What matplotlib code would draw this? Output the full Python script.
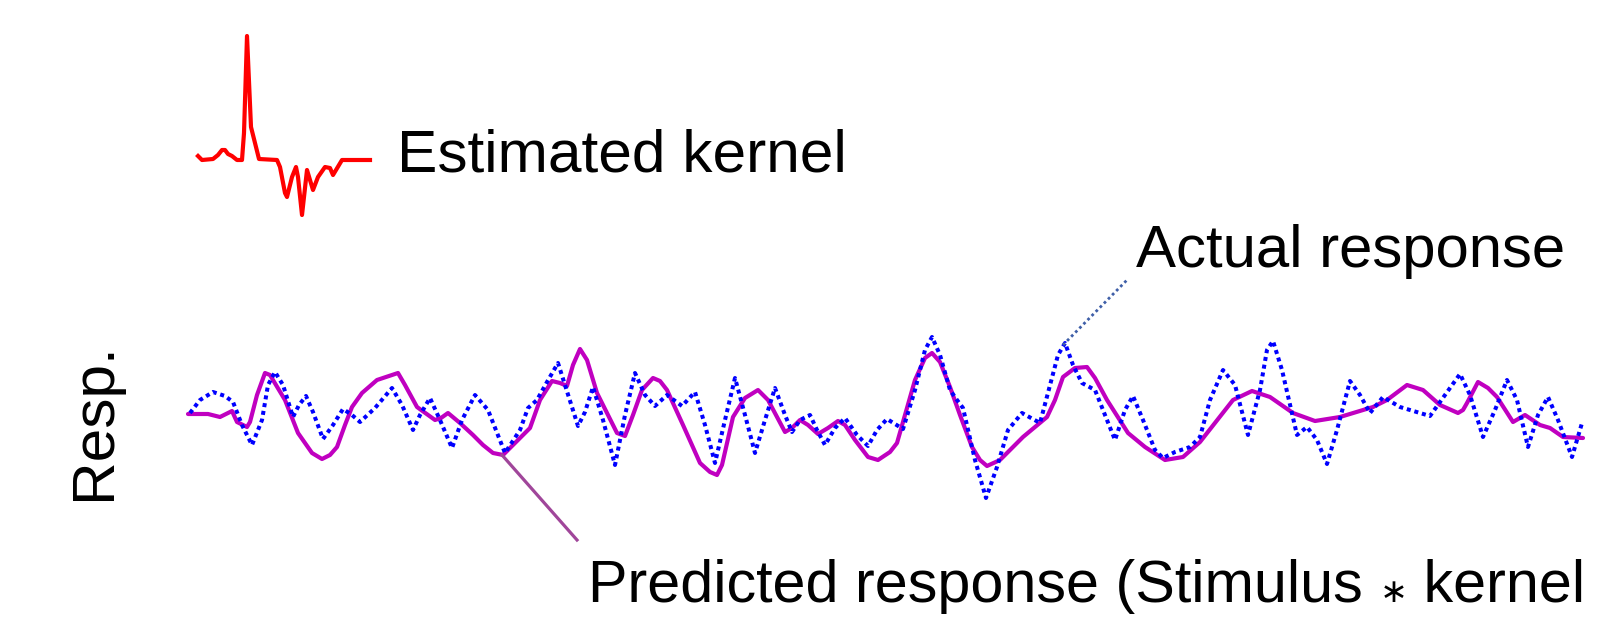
import matplotlib
matplotlib.use("Agg")
import matplotlib.pyplot as plt
from matplotlib.lines import Line2D
import numpy as np

W, H = 1601, 624

# ---- data (time in 10 ms units, response in arbitrary units) ----
actual_t = [2, 12, 25, 37, 45, 54, 64, 74, 80, 87, 95, 105, 111, 118, 125, 135, 145, 155, 164, 172,
            187, 204, 214, 225, 232, 242, 252, 264, 274, 287, 300, 317, 332, 340, 349, 359, 370, 377,
            390, 397, 405, 415, 427, 437, 447, 457, 467, 479, 494, 507, 517, 527, 537, 547, 557, 567,
            577, 587, 597, 604, 612, 622, 629, 637, 647, 657, 669, 680, 689, 699, 715, 727, 737, 744,
            752, 762, 769, 775, 787, 798, 809, 820, 834, 852, 862, 870, 877, 885, 894, 907, 917, 927,
            937, 945, 955, 967, 975, 987, 1002, 1012, 1022, 1035, 1047, 1060, 1072, 1079, 1085, 1094,
            1109, 1119, 1129, 1139, 1149, 1162, 1172, 1182, 1195, 1212, 1242, 1257, 1272, 1282, 1295,
            1307, 1319, 1329, 1340, 1350, 1360, 1370, 1384, 1394]
actual_r = [1, 14, 22, 18, 12, -11, -31, -6, 29, 42, 29, -3, 9, 18, 2, -25, -11, 5, -1, -8,
            6, 26, 9, -16, -1, 16, -6, -34, -6, 19, 4, -39, -16, 6, 14, 32, 51, 29,
            -12, 2, 27, -6, -51, -1, 41, 19, 8, 19, 8, 22, -11, -49, -6, 36, -1, -39,
            -6, 26, -1, -18, -6, -1, -16, -31, -14, -4, -21, -32, -16, -5, -15, 24, 64, 77,
            59, 24, 14, 6, -46, -84, -53, -16, 1, -9, 29, 59, 71, 49, 31, 24, -1, -26,
            4, 18, -6, -36, -44, -38, -33, -23, 14, 44, 29, -21, 24, 64, 73, 44,
            -21, -13, -26, -50, -16, 33, 19, 1, 17, 7, -2, 19, 40, 19, -23,
            4, 34, 14, -33, -1, 17, -6, -43, -9]

pred_t = [0, 20, 32, 44, 49, 59, 62, 69, 77, 82, 97, 110, 124, 134, 142, 149, 157, 164, 174, 189,
          210, 217, 229, 247, 253, 260, 272, 285, 295, 305, 315, 327, 342, 352, 364, 372, 379, 385,
          392, 399, 409, 419, 429, 437, 445, 454, 465, 472, 479, 495, 512, 522, 529, 534, 545, 557,
          570, 580, 597, 604, 612, 620, 630, 640, 650, 657, 667, 680, 690, 702, 709, 717, 727, 737,
          744, 752, 762, 772, 784, 792, 799, 812, 835, 859, 867, 875, 887, 899, 907, 919, 940, 957,
          977, 995, 1012, 1045, 1064, 1082, 1105, 1127, 1152, 1185, 1199, 1219, 1235, 1252, 1270,
          1275, 1279, 1290, 1300, 1309, 1325, 1337, 1352, 1362, 1375, 1395]
pred_r = [0, 0, -3, 3, -8, -13, -8, 19, 41, 39, 14, -19, -39, -45, -41, -33, -11, 7, 21, 34,
          41, 29, 7, -6, -4, 1, -9, -21, -31, -39, -41, -29, -14, 14, 33, 31, 28, 49,
          65, 54, 21, 1, -19, -22, -1, 24, 36, 33, 24, -11, -49, -58, -61, -51, -3, 16,
          24, 14, -18, -14, -6, -11, -20, -14, -7, -11, -26, -43, -46, -38, -29, -1, 34, 56,
          61, 52, 27, -1, -33, -46, -52, -46, -23, -3, 14, 37, 46, 47, 36, 14, -19, -33,
          -46, -43, -28, 14, 23, 17, 1, -7, -3, 7, 14, 29, 24, 9, 1,
          4, 11, 32, 26, 17, -8, -1, -11, -14, -23, -24]

kernel_lag = [0, 4, 15, 20, 24, 27, 30, 34, 39, 44, 46, 49, 53, 57, 61, 79, 82, 87, 89, 94,
              98, 100, 104, 109, 115, 120, 127, 132, 135, 144, 172]
kernel_w = [4, 0, 1, 5, 10, 10, 6, 4, 0, 0, 27, 124, 33, 17, 1, 0, -7, -33, -37, -17,
            -7, -17, -55, -10, -30, -17, -7, -8, -15, 0, 0]

label_kernel = "Estimated kernel"
label_actual = "Actual response"
label_pred = ["Predicted response (Stimulus ", "\u2217", " kernel"]
label_y = "Resp."

# ---- figure ----
fig = plt.figure(figsize=(W / 100, H / 100), dpi=100)
fig.patch.set_facecolor("white")

ax = fig.add_axes([0, 0, 1, 1])
ax.set_xlim(-188, W - 188)
ax.set_ylim(414 - H, 414)
ax.axis("off")

axk = fig.add_axes([0, 0, 1, 1])
axk.set_xlim(-198, W - 198)
axk.set_ylim(160 - H, 160)
axk.axis("off")
axk.patch.set_alpha(0)

ax.plot(pred_t, pred_r, color="#c000c0", lw=3.0, solid_joinstyle="round",
        solid_capstyle="round", zorder=2)
ax.plot(actual_t, actual_r, color="#0000ff", lw=2.9, linestyle=(0, (1, 0.95)), zorder=3)
axk.plot(kernel_lag, kernel_w, color="#ff0000", lw=3.0, solid_joinstyle="round", zorder=3)

fx = lambda px: px / W
fy = lambda py: 1 - py / H

# connectors
fig.add_artist(Line2D([fx(1063), fx(1127)], [fy(345), fy(280)], transform=fig.transFigure,
                      color="#3f5fa8", lw=2.0, linestyle=(0, (1, 1.1))))
fig.add_artist(Line2D([fx(502), fx(577)], [fy(455), fy(540)], transform=fig.transFigure,
                      color="#a0469a", lw=2.3))

fam = ["Liberation Sans", "DejaVu Sans"]
fs = 43.5
fig.text(fx(397), fy(172), label_kernel, fontsize=fs, family=fam, ha="left", va="baseline")
fig.text(fx(1136), fy(267), label_actual, fontsize=fs - 0.3, family=fam, ha="left", va="baseline")
fig.text(fx(110), fy(500), label_y, fontsize=fs, family=fam, ha="left", va="baseline",
         rotation=90, rotation_mode="anchor")

# predicted label in pieces (small operator asterisk)
renderer = fig.canvas.get_renderer()
x0 = fx(588)
pieces_fs = [fs - 0.8, 24, fs - 0.8]
pieces_fam = [fam, ["DejaVu Sans"], fam]
for txt, s, f in zip(label_pred, pieces_fs, pieces_fam):
    t = fig.text(x0, fy(602), txt, fontsize=s, family=f, ha="left", va="baseline")
    bb = t.get_window_extent(renderer=renderer)
    x0 = bb.x1 / W

fig.savefig("out.png", dpi=100)
